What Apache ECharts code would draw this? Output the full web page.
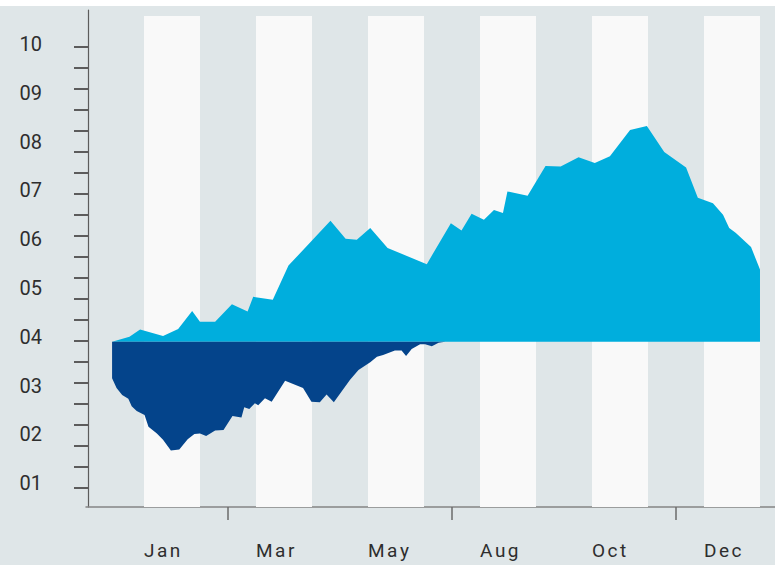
<!DOCTYPE html>
<html>
<head>
<meta charset="utf-8">
<script src="https://cdn.jsdelivr.net/npm/echarts@6/dist/echarts.min.js"></script>
<style>
  html, body { margin: 0; padding: 0; background: #ffffff; }
  #chart { position: absolute; left: 0; top: 6px; width: 775px; height: 559px; }
</style>
</head>
<body>
<div id="chart"></div>
<script>
// Periods along the x axis (one unit = one shaded column)
const aboveX = [0.43, 0.74, 0.93, 1.34, 1.61, 1.86, 2.00, 2.27, 2.57, 2.85, 2.95, 3.30, 3.58, 4.33,
                4.60, 4.80, 5.04, 5.35, 6.05, 6.48, 6.67, 6.85, 7.07, 7.25, 7.41, 7.49, 7.85, 8.17,
                8.44, 8.76, 9.05, 9.32, 9.68, 9.98, 10.29, 10.68, 10.89, 11.16, 11.34, 11.45, 11.57,
                11.84, 12.00];
const aboveY = [3.90, 4.00, 4.15, 4.02, 4.16, 4.53, 4.31, 4.31, 4.67, 4.52, 4.82, 4.76, 5.46, 6.38,
                6.01, 5.99, 6.23, 5.82, 5.49, 6.33, 6.18, 6.52, 6.40, 6.60, 6.54, 6.98, 6.89, 7.50,
                7.49, 7.68, 7.56, 7.70, 8.24, 8.32, 7.79, 7.47, 6.85, 6.74, 6.50, 6.23, 6.13,
                5.84, 5.38];

const belowX = [0.43, 0.51, 0.61, 0.72, 0.78, 0.87, 1.01, 1.08, 1.23, 1.34, 1.48, 1.63, 1.78, 1.90,
                2.00, 2.11, 2.27, 2.42, 2.58, 2.74, 2.79, 2.88, 2.98, 3.04, 3.16, 3.28, 3.52, 3.84,
                3.99, 4.14, 4.26, 4.39, 4.68, 4.83, 5.04, 5.16, 5.27, 5.48, 5.60, 5.68, 5.78, 5.93,
                6.02, 6.14, 6.26, 6.38];
const belowY = [3.15, 2.95, 2.81, 2.73, 2.58, 2.48, 2.40, 2.16, 2.02, 1.89, 1.67, 1.69, 1.90, 2.01,
                2.02, 1.97, 2.08, 2.09, 2.38, 2.35, 2.56, 2.52, 2.64, 2.60, 2.74, 2.67, 3.10, 2.95,
                2.67, 2.66, 2.82, 2.66, 3.12, 3.32, 3.48, 3.59, 3.63, 3.72, 3.72, 3.61, 3.75, 3.85,
                3.85, 3.81, 3.88, 3.90];

const baseline = 3.9;

const monthNames = ['Jan', 'Mar', 'May', 'Aug', 'Oct', 'Dec'];
const monthStarts = [1, 3, 5, 7, 9, 11];
const sectionTicks = [2.5, 6.5, 10.5];

const levelLabels = [1, 2, 3, 4, 5, 6, 7, 8, 9, 10];
// minor tick marks on the value axis
const minorTicks = [];
for (let i = 0; i < 22; i++) minorTicks.push(+(9.9386 - i * 0.43024).toFixed(4));

// light columns behind the areas
const lightColumns = [[1, 2], [3, 4], [5, 6], [7, 8], [9, 10], [11, 12]];
const columnTop = 10.574;
const yMin = 0.514, yMax = 10.697;

function pairs(xs, ys) { return xs.map((x, i) => [x, ys[i]]); }

const chart = echarts.init(document.getElementById('chart'), null, { renderer: 'svg' });

chart.setOption({
  backgroundColor: '#dfe6e8',
  animation: false,
  grid: { left: 86, right: 0, top: 4, bottom: 58 },
  xAxis: {
    type: 'value',
    min: -0.0357,
    max: 12.268,
    splitLine: { show: false },
    axisLine: { show: true, lineStyle: { color: '#858585', width: 1.5 } },
    axisTick: {
      show: true, customValues: sectionTicks, length: 13,
      lineStyle: { color: '#6b6b6b', width: 1.5 }
    },
    axisLabel: {
      customValues: monthStarts,
      margin: 34,
      align: 'left',
      color: '#2e2e2e',
      fontFamily: 'Roboto',
      fontSize: 19,
      formatter: v => {
        const name = monthNames[monthStarts.indexOf(Math.round(v))] || '';
        return name.split('').map(c => '{s|' + c + '}').join('');
      },
      rich: { s: { fontFamily: 'Roboto', fontSize: 19, color: '#2e2e2e', padding: [0, 2.5, 0, 0] } }
    }
  },
  yAxis: {
    type: 'value',
    min: yMin,
    max: yMax,
    splitLine: { show: false },
    axisLine: { show: true, lineStyle: { color: '#5c5c5c', width: 1.2 } },
    axisTick: {
      show: true, customValues: minorTicks, length: 14,
      lineStyle: { color: '#5c5c5c', width: 2 }
    },
    axisLabel: {
      customValues: levelLabels,
      margin: 44,
      color: '#2e2e2e',
      fontFamily: 'Roboto',
      fontSize: 20,
      formatter: v => String(Math.round(v)).padStart(2, '0')
    }
  },
  series: [
    {
      name: 'columns',
      type: 'line',
      data: [],
      z: 0,
      silent: true,
      markArea: {
        silent: true,
        itemStyle: { color: '#f9f9f9' },
        data: lightColumns.map(c => [{ xAxis: c[0], yAxis: columnTop }, { xAxis: c[1], yAxis: yMin }])
      }
    },
    {
      name: 'above',
      type: 'line',
      z: 3,
      symbol: 'none',
      lineStyle: { width: 0 },
      areaStyle: { color: '#00aedd', opacity: 1, origin: baseline },
      data: pairs(aboveX, aboveY)
    },
    {
      name: 'below',
      type: 'line',
      z: 3,
      symbol: 'none',
      lineStyle: { width: 0 },
      areaStyle: { color: '#04448b', opacity: 1, origin: baseline },
      data: pairs(belowX, belowY)
    }
  ]
});
</script>
</body>
</html>
